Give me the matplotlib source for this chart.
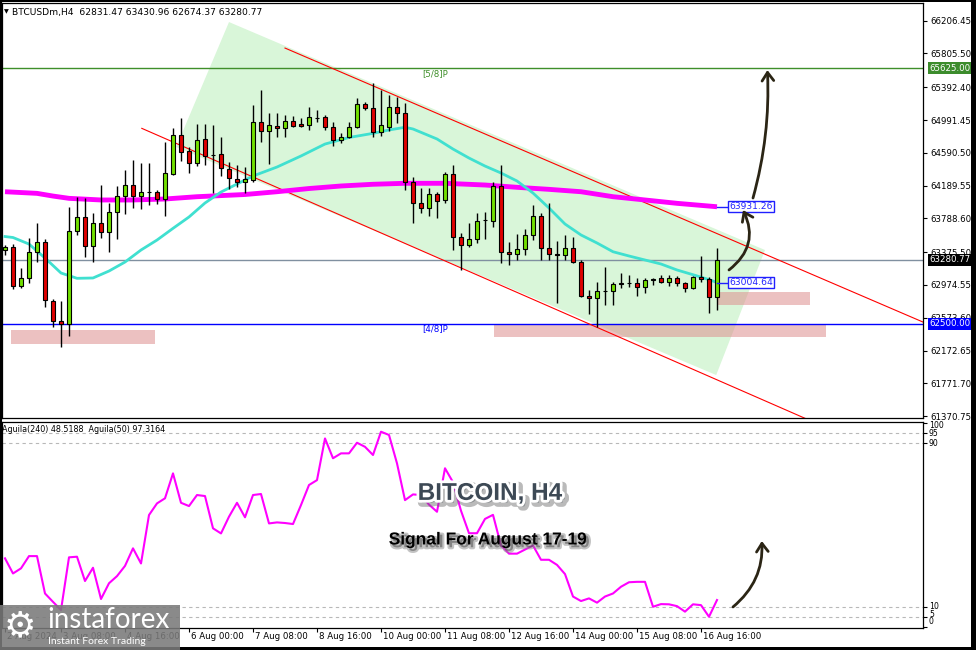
import matplotlib
matplotlib.use('Agg')
import matplotlib.pyplot as plt
import matplotlib.patheffects as pe
import matplotlib.transforms as mtransforms
from matplotlib.patches import Rectangle, Polygon, FancyArrowPatch

# ---------------- data (BTCUSDm H4) ----------------
opens = [63402, 63435, 62966, 63056, 63381, 63504, 62782, 62530, 62497, 63631,
         63809, 63455, 63729, 63619, 63863, 64059, 64193, 64059, 64115, 64108,
         64022, 64332, 64809, 64613, 64470, 64756, 64565, 64573, 64389, 64270,
         64237, 64258, 64971, 64861, 64919, 64891, 64983, 64939, 64927, 65020,
         65025, 64910, 64747, 64780, 64903, 65184, 65135, 64849, 64903, 65155,
         65074, 64237, 63973, 63912, 64083, 64014, 64328, 63557, 63463, 63533,
         63765, 63760, 64185, 63374, 63350, 63410, 63586, 63818, 63423, 63350,
         63345, 63423, 63252, 62843, 62811, 62904, 62901, 62985, 62995, 63002,
         62946, 63035, 63056, 63014, 63056, 62995, 62941, 63068, 63044, 62831.47]
highs = [63463, 63472, 63178, 63545, 63729, 63533, 62803, 62782, 63924, 64047,
         64034, 63851, 64197, 63973, 64185, 64381, 64503, 64462, 64470, 64136,
         64727, 64891, 65013, 64666, 64943, 64943, 64931, 64788, 64482, 64442,
         64421, 65175, 65359, 65074, 65074, 65053, 65041, 65013, 65147, 65114,
         65053, 64971, 64829, 64971, 65257, 65216, 65441, 65359, 65298, 65277,
         65196, 64298, 64157, 64157, 64115, 64360, 64442, 63606, 63729, 63858,
         63867, 64237, 64442, 63504, 63598, 63655, 63952, 63858, 63973, 63516,
         63586, 63557, 63280, 62913, 63014, 63190, 63014, 63125, 63096, 63056,
         63056, 63063, 63096, 63096, 63084, 63014, 63084, 63329, 63076, 63430.96]
lows = [63341, 62921, 62934, 62995, 63259, 62709, 62464, 62212, 62350, 63586,
        63320, 63259, 63545, 63381, 63533, 63839, 63912, 63900, 63952, 63961,
        63818, 64319, 64494, 64348, 64433, 64442, 64096, 64307, 64148, 64173,
        64096, 64237, 64727, 64454, 64784, 64780, 64903, 64910, 64870, 64968,
        64870, 64674, 64714, 64768, 64891, 65114, 64788, 64796, 64861, 64955,
        64136, 63736, 63851, 63818, 63790, 63973, 63402, 63158, 63443, 63484,
        63537, 63687, 63247, 63219, 63280, 63341, 63524, 63280, 63280, 62758,
        63280, 63240, 62831, 62619, 62457, 62729, 62729, 62934, 62953, 62840,
        62873, 62974, 62995, 62962, 62962, 62892, 62921, 63014, 62635, 62674.37]
closes = [63435, 62966, 63056, 63381, 63504, 62791, 62537, 62497, 63631, 63809,
          63455, 63729, 63619, 63863, 64059, 64193, 64059, 64115, 64110, 64022,
          64340, 64809, 64604, 64470, 64747, 64552, 64560, 64401, 64279, 64237,
          64270, 64971, 64861, 64927, 64891, 64983, 64919, 64919, 65032, 65016,
          64910, 64747, 64780, 64903, 65184, 65135, 64849, 64927, 65155, 65074,
          64237, 63973, 63912, 64083, 64001, 64328, 63565, 63463, 63537, 63760,
          63769, 64185, 63374, 63350, 63414, 63586, 63818, 63423, 63350, 63345,
          63423, 63252, 62843, 62811, 62904, 62900, 62983, 62995, 63002, 62946,
          63035, 63044, 63014, 63056, 62995, 62941, 63068, 63044, 62831.47, 63280.77]

# fast MA (turquoise), read at selected bars
ma_fast_x = [0, 1, 3, 5, 7, 9, 11, 13, 15, 17, 19, 21, 23, 25, 27, 29, 31, 34, 37, 40,
             43, 46, 48, 50, 51, 54, 56, 58, 60, 62, 64, 66, 68, 70, 72, 74, 76, 78,
             80, 82, 84, 86, 88, 89]
ma_fast_y = [63567, 63555, 63475, 63304, 63121, 63056, 63060, 63145, 63255, 63402,
             63524, 63667, 63806, 63977, 64111, 64209, 64307, 64417, 64552, 64698,
             64778, 64829, 64870, 64903, 64882, 64760, 64637, 64527, 64429, 64344,
             64246, 64099, 63916, 63720, 63586, 63488, 63381, 63329, 63280, 63231,
             63158, 63100, 63040, 63004.64]
# slow MA (magenta)
ma_slow_x = [0, 4, 6, 8, 12, 16, 20, 24, 30, 34, 38, 42, 46, 50, 55, 60, 64, 68, 72,
             76, 80, 84, 89]
ma_slow_y = [64115, 64095, 64062, 64034, 64014, 64014, 64026, 64054, 64081, 64115,
             64154, 64185, 64206, 64218, 64218, 64197, 64169, 64144, 64115, 64054,
             64014, 63973, 63931.26]

# Aguila oscillator, one value per bar
aguila = [33.7, 26.3, 28.8, 34.8, 34.8, 16.5, 12.4, 8.4, 34.2, 34.5,
          22.6, 29.1, 13.8, 21.5, 25.0, 30.0, 38.6, 31.2, 54.9, 60.6,
          63.1, 75.3, 60.9, 59.3, 64.7, 64.2, 48.4, 45.9, 54.1, 60.9,
          53.8, 64.7, 65.2, 50.8, 51.3, 51.0, 50.5, 59.8, 69.6, 72.0,
          92.4, 82.7, 85.1, 85.1, 90.3, 88.3, 84.3, 95.7, 94.1, 80.2,
          62.2, 65.0, 64.7, 60.0, 56.5, 77.8, 71.0, 57.0, 46.0, 46.0,
          53.0, 55.0, 40.0, 36.0, 36.0, 38.0, 40.0, 33.0, 33.0, 30.5,
          26.0, 15.0, 12.8, 14.1, 12.0, 15.0, 16.5, 19.8, 22.0, 22.2,
          22.2, 10.0, 11.3, 11.2, 10.3, 7.6, 11.2, 10.8, 5.1, 13.3]

price_ticks = [66206.45, 65805.50, 65392.40, 64991.45, 64590.50, 64189.55, 63788.60,
               63375.50, 62974.55, 62573.60, 62172.65, 61771.70, 61370.75]
time_pos = [0, 7, 15, 23, 31, 39, 47, 55, 63, 71, 79, 87]
time_labels = ['2 Aug 2024', '3 Aug 08:00', '4 Aug 16:00', '6 Aug 00:00', '7 Aug 08:00',
               '8 Aug 16:00', '10 Aug 00:00', '11 Aug 08:00', '12 Aug 16:00',
               '14 Aug 00:00', '15 Aug 08:00', '16 Aug 16:00']

level_58 = 65625.00
level_48 = 62500.00
last_price = 63280.77

# channel, zones
channel_upper = ([35, 114.75], [65872, 62521])
channel_lower = ([17.1, 100], [64890, 61344])
channel_fill = [(28, 66190), (95, 63402), (88.9, 61873), (21.4, 64662)]
zones = [(0.75, 62252, 18.0, 172), (61.1, 62342, 41.5, 155), (89.0, 62729, 11.6, 156)]

font = 'DejaVu Sans'
small = 6.2

fig = plt.figure(figsize=(9.76, 6.5), dpi=100, facecolor='black')
fig.patches.append(Rectangle((2 / 976, 3 / 650), 969 / 976, 645 / 650, transform=fig.transFigure,
                             facecolor='white', edgecolor='none', zorder=-10))

ax = fig.add_axes([2 / 976, 1 - 418.3 / 650, 921 / 976, 415.3 / 650])
ax2 = fig.add_axes([2 / 976, 1 - 628 / 650, 921 / 976, 206.3 / 650])

for a in (ax, ax2):
    a.set_xlim(-0.375, 114.75)
    for s in a.spines.values():
        s.set_color('black')
        s.set_linewidth(0.9)

ax.set_ylim(61344, 66423)
ax2.set_ylim(-0.4, 100.6)

# ---------------- main panel ----------------
ax.add_patch(Polygon(channel_fill, closed=True, facecolor='#9be89b', alpha=0.38,
                     edgecolor='none', zorder=1))
for x0, y0, w, h in zones:
    ax.add_patch(Rectangle((x0, y0), w, h, facecolor='#dd8f8f', alpha=0.55,
                           edgecolor='none', zorder=1.5))

ax.axhline(level_58, color='#3f8f2a', lw=1, zorder=2)
ax.axhline(level_48, color='#0000ff', lw=1, zorder=2)
ax.axhline(last_price, color='#8090a0', lw=1, zorder=2)
ax.text(52.2, 65560, '[5/8]P', color='#3f8f2a', fontsize=small, family=font,
        ha='left', va='center', zorder=3)
ax.text(52.2, 62445, '[4/8]P', color='#0000ff', fontsize=small, family=font,
        ha='left', va='center', zorder=3)

ax.plot(*channel_upper, color='red', lw=0.8, zorder=2.2)
ax.plot(*channel_lower, color='red', lw=0.8, zorder=2.2)

ax.plot(ma_slow_x, ma_slow_y, color='#ff00ff', lw=3.5, solid_capstyle='butt', zorder=3)
ax.plot(ma_fast_x, ma_fast_y, color='#40e0d0', lw=2, zorder=3.1)

idx = list(range(len(opens)))
ax.vlines(idx, lows, highs, color='black', lw=1, zorder=4)
bottoms = [min(o, c) for o, c in zip(opens, closes)]
heights = [max(abs(c - o), 4) for o, c in zip(opens, closes)]
cols = ['#72e000' if c >= o else '#e00000' for o, c in zip(opens, closes)]
ax.bar(idx, heights, bottom=bottoms, width=0.6, color=cols, edgecolor='black',
       linewidth=0.8, zorder=5)

# MA value labels
for val in (ma_slow_y[-1], ma_fast_y[-1]):
    ax.plot([89, 90.4], [val, val], color='#2020ff', lw=1, zorder=5)
    ax.text(90.55, val, f'{val:.2f}', color='#2020ff', fontsize=small + 0.4, family=font,
            ha='left', va='center', zorder=6,
            bbox=dict(boxstyle='square,pad=0.12', facecolor='white', edgecolor='#2020ff', lw=1))

# arrows
arrow_kw = dict(arrowstyle='->,head_length=0.6,head_width=0.42', color='#2b2515',
                lw=2, mutation_scale=10, shrinkA=0, shrinkB=0, zorder=7)
ax.add_patch(FancyArrowPatch((90.5, 63158), (92.25, 63891),
                             connectionstyle='arc3,rad=0.4', **arrow_kw))
ax.add_patch(FancyArrowPatch((93.5, 64038), (95.3, 65603),
                             connectionstyle='arc3,rad=0.08', **arrow_kw))

# right price axis
ax.yaxis.tick_right()
ax.set_yticks(price_ticks)
ax.set_yticklabels([f'{v:.2f}' for v in price_ticks], family=font)
ax.tick_params(axis='y', direction='out', length=3, width=0.8, pad=2, labelsize=small, colors='black')
ax.set_xticks([])

ytr = mtransforms.blended_transform_factory(ax.transAxes, ax.transData)
for val, bg in ((level_58, '#3c8c2c'), (last_price, 'black'), (level_48, '#0000ff')):
    ax.text(1.0065, val, f'{val:.2f}', transform=ytr, color='white', fontsize=small,
            family=font, ha='left', va='center', zorder=10, clip_on=False,
            bbox=dict(boxstyle='square,pad=0.15', facecolor=bg, edgecolor='none'))

ax.text(0.0022, 0.978, '\u25bc', transform=ax.transAxes, fontsize=4.5, family=font,
        ha='left', va='center')
ax.text(0.0105, 0.978, 'BTCUSDm,H4  62831.47 63430.96 62674.37 63280.77',
        transform=ax.transAxes, fontsize=6.6, family=font, ha='left', va='center')

# ---------------- lower panel ----------------
for lv in (95, 90, 10, 5):
    ax2.axhline(lv, color='#b8b8b8', lw=0.8, ls=(0, (3, 3)), zorder=1)
ax2.plot(idx, aguila, color='#ff00ff', lw=1.5, zorder=3)

ax2.text(0.0, 0.96, 'Aguila(240) 48.5188  Aguila(50) 97.3164', transform=ax2.transAxes,
         fontsize=5.8, family=font, ha='left', va='center')

ax2.yaxis.tick_right()
ax2.set_yticks([100, 95, 90, 10, 5, 0])
ax2.set_yticklabels([])
ax2.tick_params(axis='y', direction='out', length=3, width=0.8)
ytr2 = mtransforms.blended_transform_factory(ax2.transAxes, ax2.transData)
for val, pos in ((100, 98.5), (95, 95), (90, 90), (10, 10), (5, 6), (0, 2.6)):
    ax2.text(1.0065, pos, str(val), transform=ytr2, fontsize=5.6, family=font,
             ha='left', va='center', clip_on=False)

ax2.set_xticks(time_pos)
ax2.set_xticklabels([])
ax2.tick_params(axis='x', direction='out', length=3, width=0.8)
xtr = mtransforms.blended_transform_factory(ax2.transData, ax2.transAxes)
for p, lab in zip(time_pos, time_labels):
    ax2.text(p + 0.25, -0.04, lab, transform=xtr, fontsize=small, family=font,
             ha='left', va='center', clip_on=False)

ax2.add_patch(FancyArrowPatch((91, 9.9), (94.6, 42.2),
                              connectionstyle='arc3,rad=0.25', **arrow_kw))

ax2.text(60.6, 65.5, 'BITCOIN, H4', fontsize=17.5, fontweight='bold', color='#3d4955',
         family='Liberation Sans', ha='center', va='center', zorder=8,
         path_effects=[pe.Stroke(linewidth=6, foreground='#666666', alpha=0.45, offset=(2, -2)),
                       pe.Stroke(linewidth=4, foreground='white'), pe.Normal()])
ax2.text(60.4, 42.7, 'Signal For August 17-19', fontsize=12.5, fontweight='bold', color='black',
         family='Liberation Sans', ha='center', va='center', zorder=8,
         path_effects=[pe.Stroke(linewidth=3, foreground='#888888', alpha=0.5, offset=(2, -2)),
                       pe.Normal()])

# ---------------- logo ----------------
fig.patches.append(Rectangle((0, 0), 180 / 976, 45 / 650, transform=fig.transFigure,
                             facecolor='#7a7a7a', alpha=0.88, edgecolor='none', zorder=20))
fig.text(4 / 976, 24 / 650, '\u2699', color='white', fontsize=26, family='DejaVu Sans',
         ha='left', va='center', zorder=21)
fig.text(47 / 976, 30 / 650, 'instaforex', color='white', fontsize=20, family='Lato',
         ha='left', va='center', zorder=21)
fig.text(48 / 976, 9 / 650, 'Instant Forex Trading', color='white', fontsize=7.5,
         family='Lato', ha='left', va='center', zorder=21)

fig.savefig('out.png', dpi=100, facecolor=fig.get_facecolor())
